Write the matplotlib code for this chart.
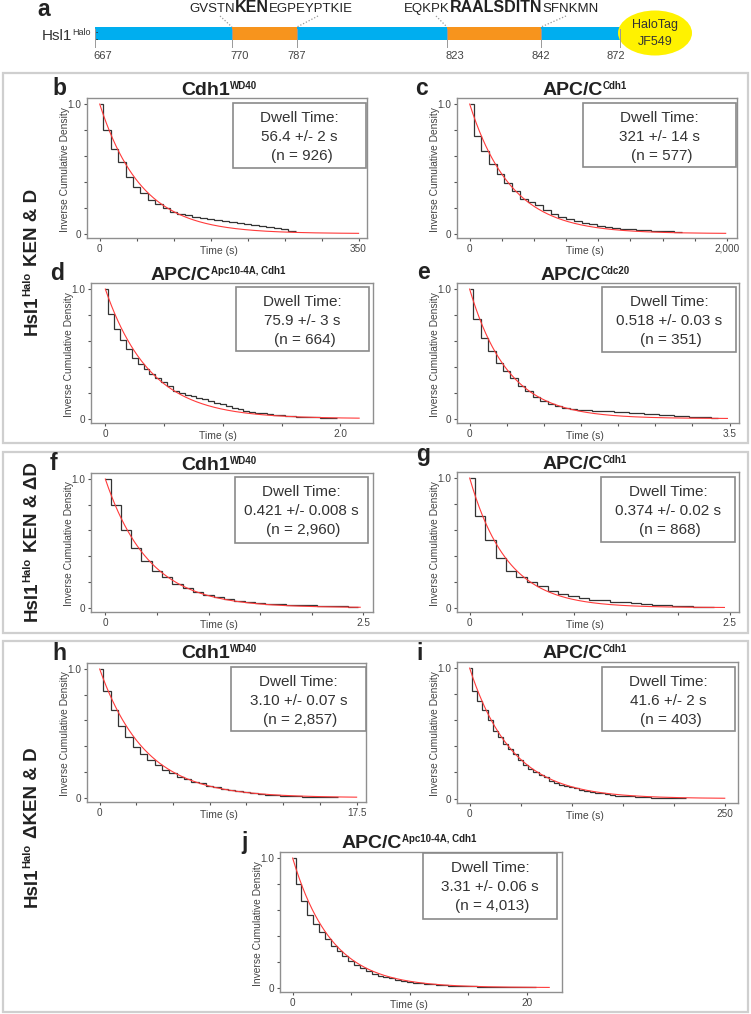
import numpy as np
import matplotlib
matplotlib.use('Agg')
import matplotlib.pyplot as plt
from matplotlib.patches import Rectangle, Ellipse
from matplotlib.lines import Line2D

plt.rcParams['font.family'] = ['Liberation Sans', 'DejaVu Sans']

# ---------------- data ----------------
panel_letters = ['b', 'c', 'd', 'e', 'f', 'g', 'h', 'i', 'j']
title_main = ['Cdh1', 'APC/C', 'APC/C', 'APC/C', 'Cdh1', 'APC/C', 'Cdh1', 'APC/C', 'APC/C']
title_sup = ['WD40', 'Cdh1', 'Apc10-4A, Cdh1', 'Cdc20', 'WD40', 'Cdh1', 'WD40', 'Cdh1', 'Apc10-4A, Cdh1']
dwell_text = ['56.4 +/- 2 s', '321 +/- 14 s', '75.9 +/- 3 s', '0.518 +/- 0.03 s',
              '0.421 +/- 0.008 s', '0.374 +/- 0.02 s', '3.10 +/- 0.07 s', '41.6 +/- 2 s',
              '3.31 +/- 0.06 s']
n_text = ['926', '577', '664', '351', '2,960', '868', '2,857', '403', '4,013']
fit_tau = [56.4, 321, 0.38, 0.518, 0.421, 0.36, 3.10, 41.6, 3.31]
fit_end = [350, 1990, 2.16, 3.47, 2.47, 2.45, 17.5, 250, 21.9]
bin_width = [10, 60, 0.05, 0.1, 0.1, 0.1, 0.5, 5, 0.5]
xtick_step = [50, 250, 0.5, 0.5, 0.5, 0.5, 2.5, 50, 5]
xtick_max = [350, 2000, 2.0, 3.5, 2.5, 2.5, 17.5, 250, 20]
xtick_max_label = ['350', '2,000', '2.0', '3.5', '2.5', '2.5', '17.5', '250', '20']

levels_b = [1.0, 0.80, 0.655, 0.55, 0.44, 0.36, 0.31, 0.26, 0.225, 0.195, 0.17, 0.155, 0.143,
            0.132, 0.122, 0.113, 0.105, 0.098, 0.09, 0.083, 0.075, 0.068, 0.06, 0.052, 0.043,
            0.033, 0.022]
levels_c = [1.0, 0.755, 0.64, 0.54, 0.457, 0.388, 0.33, 0.27, 0.245, 0.22, 0.18, 0.155, 0.13,
            0.111, 0.096, 0.083, 0.072, 0.062, 0.052, 0.044, 0.039, 0.034, 0.028, 0.026, 0.023,
            0.021, 0.018, 0.015]
levels_d = [1.0, 0.81, 0.694, 0.61, 0.537, 0.47, 0.42, 0.38, 0.346, 0.314, 0.28, 0.25, 0.215,
            0.2, 0.185, 0.172, 0.16, 0.148, 0.136, 0.122, 0.11, 0.095, 0.082, 0.072, 0.062, 0.054,
            0.047, 0.041, 0.035, 0.03, 0.026, 0.022, 0.019, 0.016, 0.014, 0.012, 0.01, 0.008,
            0.007, 0.005]
levels_e = [1.0, 0.77, 0.62, 0.524, 0.427, 0.366, 0.31, 0.254, 0.21, 0.17, 0.136, 0.11, 0.094,
            0.079, 0.072, 0.068, 0.064, 0.061, 0.058, 0.055, 0.052, 0.049, 0.046, 0.042, 0.038,
            0.034, 0.03, 0.026, 0.022, 0.019, 0.016, 0.013, 0.01, 0.008]
levels_f = [1.0, 0.8, 0.607, 0.466, 0.366, 0.288, 0.236, 0.183, 0.152, 0.118, 0.1, 0.079, 0.065,
            0.052, 0.045, 0.034, 0.03, 0.027, 0.024, 0.021, 0.018, 0.015, 0.012, 0.009, 0.006]
levels_g = [1.0, 0.706, 0.525, 0.384, 0.286, 0.234, 0.195, 0.169, 0.13, 0.104, 0.088, 0.073,
            0.062, 0.055, 0.047, 0.042, 0.034, 0.029, 0.023, 0.018, 0.016, 0.01, 0.007, 0.004]
levels_h = [1.0, 0.83, 0.679, 0.56, 0.47, 0.39, 0.34, 0.295, 0.25, 0.217, 0.19, 0.164, 0.146,
            0.125, 0.11, 0.094, 0.081, 0.07, 0.06, 0.05, 0.042, 0.034, 0.029, 0.023, 0.018,
            0.016, 0.013, 0.01, 0.008, 0.006, 0.005, 0.004, 0.003]
levels_i = [1.0, 0.825, 0.75, 0.68, 0.6, 0.52, 0.47, 0.418, 0.38, 0.345, 0.295, 0.26, 0.23,
            0.204, 0.183, 0.164, 0.138, 0.12, 0.104, 0.097, 0.086, 0.078, 0.068, 0.06, 0.052,
            0.044, 0.039, 0.034, 0.029, 0.023, 0.021, 0.018, 0.016, 0.014, 0.012, 0.01, 0.008,
            0.007, 0.006, 0.005, 0.004, 0.003, 0.002]
levels_j = [1.0, 0.8, 0.67, 0.564, 0.493, 0.428, 0.375, 0.323, 0.283, 0.244, 0.205, 0.178,
            0.152, 0.126, 0.108, 0.092, 0.081, 0.071, 0.06, 0.052, 0.045, 0.039, 0.034, 0.03,
            0.026, 0.022, 0.019, 0.016, 0.014, 0.012, 0.01, 0.009, 0.008, 0.007, 0.006, 0.005,
            0.004, 0.003, 0.003, 0.002, 0.002, 0.001]
all_levels = [levels_b, levels_c, levels_d, levels_e, levels_f, levels_g, levels_h, levels_i, levels_j]

residues = [667, 770, 787, 823, 842, 872]
seq1 = ['GVSTN', 'KEN', 'EGPEYPTKIE']
seq2 = ['EQKPK', 'RAALSDITN', 'SFNKMN']
row_labels = [['Hsl1', 'Halo', ' KEN & D'], ['Hsl1', 'Halo', ' KEN & \u0394D'],
              ['Hsl1', 'Halo', ' \u0394KEN & D']]

# ---------------- layout (pixels, from top-left) ----------------
W, H = 751, 1014
ax_px = [(87, 367, 98, 238), (457, 737, 98, 238), (91, 373, 283, 423), (457, 739, 283, 423),
         (91, 373, 473, 612), (457, 739, 472, 612), (87, 366, 663, 802), (457, 738, 662, 803),
         (280, 562, 852, 992)]
xlims = [(-17.2, 361.4), (-98.7, 2078), (-0.122, 2.278), (-0.17, 3.626), (-0.139, 2.594),
         (-0.122, 2.59), (-0.864, 18.14), (-12.4, 263), (-1.08, 22.99)]
ylim = (-0.034, 1.047)
box_px = [(233, 366, 103, 168), (583, 736, 103, 167), (236, 369, 287, 351), (602, 736, 287, 352),
          (235, 368, 477, 543), (601, 735, 477, 542), (231, 366, 667, 731), (602, 735, 667, 731),
          (423, 557, 853, 919)]
title_px = [(219, 95), (585, 95), (218, 280), (585, 280), (219, 470), (585, 469), (219, 658),
            (585, 658), (409, 848)]
letter_px = [(52, 95), (415, 95), (50, 280), (417, 279), (50, 470), (416, 461), (52, 660),
             (416, 660), (241, 849)]
sections = [(3, 748, 73, 443), (3, 748, 452, 633), (3, 748, 641, 1012)]
row_label_y = [262, 542, 828]

fig = plt.figure(figsize=(W / 100, H / 100), dpi=100)
fig.patch.set_facecolor('white')
renderer = fig.canvas.get_renderer()


def fx(p):
    return p / W


def fy(p):
    return 1 - p / H


def adv(s, size, weight):
    t1 = fig.text(0, 0, '|' + s + '|', fontsize=size, fontweight=weight)
    t2 = fig.text(0, 0, '||', fontsize=size, fontweight=weight)
    w = t1.get_window_extent(renderer=renderer).width - t2.get_window_extent(renderer=renderer).width
    t1.remove()
    t2.remove()
    return w


def rich(x, y, pieces, rotation=0, color='#222222', align='center'):
    widths = [adv(s, sz, wt) for s, sz, wt, r in pieces]
    total = sum(widths)
    if rotation == 0:
        pos = x - total / 2 if align == 'center' else x
        for (s, sz, wt, r), w in zip(pieces, widths):
            lead = len(s) - len(s.lstrip(' '))
            off = adv(' ' * lead, sz, wt) if lead else 0
            fig.text(fx(pos + off), fy(y - r), s.strip(), fontsize=sz, fontweight=wt,
                     color=color, ha='left', va='baseline')
            pos += w
    else:
        pos = y + total / 2
        for (s, sz, wt, r), w in zip(pieces, widths):
            lead = len(s) - len(s.lstrip(' '))
            off = adv(' ' * lead, sz, wt) if lead else 0
            fig.text(fx(x - r), fy(pos - off), s.strip(), fontsize=sz, fontweight=wt,
                     color=color, ha='left', va='baseline', rotation=90, rotation_mode='anchor')
            pos -= w


# ---------------- section frames ----------------
for (l, r, t, b) in sections:
    fig.add_artist(Rectangle((fx(l), fy(b)), (r - l) / W, (b - t) / H, transform=fig.transFigure,
                             fill=False, edgecolor='#cfcfcf', lw=1.6))

for lab, yc in zip(row_labels, row_label_y):
    rich(37, yc, [(lab[0], 13.5, 'bold', 0), (lab[1], 8, 'bold', 6.5), (lab[2], 13.5, 'bold', 0)],
         rotation=90, color='#222222')

# ---------------- panel a ----------------
fig.text(fx(37), fy(16), 'a', fontsize=16.5, fontweight='bold', color='#222222', ha='left',
         va='baseline')
rich(42, 40, [('Hsl1', 11, 'normal', 0), ('Halo', 6.5, 'normal', 5), (' :', 11, 'normal', 0)],
     color='#333333', align='left')
seg_px = [95, 232, 297, 447, 541, 620]
label_dx = [8, 8, 0, 8, 0, -4]
seg_colors = ['#00AEEF', '#F7941D', '#00AEEF', '#F7941D', '#00AEEF']
bar_t, bar_b = 27, 40
for k in range(len(residues) - 1):
    fig.add_artist(Rectangle((fx(seg_px[k]), fy(bar_b)), (seg_px[k + 1] - seg_px[k]) / W,
                             (bar_b - bar_t) / H, transform=fig.transFigure,
                             facecolor=seg_colors[k], edgecolor='none'))
for xp, dx, res in zip(seg_px, label_dx, residues):
    fig.add_artist(Line2D([fx(xp), fx(xp)], [fy(bar_t + 2), fy(47)], transform=fig.transFigure,
                          color='#999999', lw=0.7))
    fig.text(fx(xp + dx), fy(59), str(res), fontsize=8, color='#444444', ha='center', va='baseline')
fig.add_artist(Ellipse((fx(655), fy(33)), 74 / W, 45 / H, transform=fig.transFigure,
                       facecolor='#FFF200', edgecolor='none'))
fig.text(fx(655), fy(28), 'HaloTag', fontsize=9, color='#333333', ha='center', va='baseline')
fig.text(fx(655), fy(45), 'JF549', fontsize=9, color='#333333', ha='center', va='baseline')
rich(271, 12, [(seq1[0], 9.5, 'normal', 0), (seq1[1], 11.5, 'bold', 0), (seq1[2], 9.5, 'normal', 0)],
     color='#222222')
rich(501, 12, [(seq2[0], 9.5, 'normal', 0), (seq2[1], 11.5, 'bold', 0), (seq2[2], 9.5, 'normal', 0)],
     color='#222222')
for (x0, y0, x1, y1) in [(220, 16, 232, 27), (318, 16, 297, 27), (436, 16, 447, 27), (566, 16, 541, 27)]:
    fig.add_artist(Line2D([fx(x0), fx(x1)], [fy(y0), fy(y1)], transform=fig.transFigure,
                          color='#999999', lw=0.9, ls=(0, (1, 1.5))))

# ---------------- dwell-time panels ----------------
for k in range(9):
    l, r, t, b = ax_px[k]
    ax = fig.add_axes([fx(l), fy(b), (r - l) / W, (b - t) / H])
    lv = np.array(all_levels[k])
    w = bin_width[k]
    edges = np.concatenate([[0.0], w / 2 + w * np.arange(len(lv))])
    ax.stairs(lv, edges, baseline=None, color='#333333', lw=0.9, zorder=3)
    tt = np.linspace(0, fit_end[k], 400)
    ax.plot(tt, np.exp(-tt / fit_tau[k]), color='#ff3b3b', lw=0.8, zorder=4)
    ax.set_xlim(*xlims[k])
    ax.set_ylim(*ylim)
    xt = np.arange(0, xtick_max[k] + xtick_step[k] / 2, xtick_step[k])
    ax.set_xticks(xt)
    ax.set_xticklabels(['0'] + [''] * (len(xt) - 2) + [xtick_max_label[k]])
    yt = np.arange(0, 1.01, 0.2)
    ax.set_yticks(yt)
    ax.set_yticklabels(['0', '', '', '', '', '1.0'])
    for s in ax.spines.values():
        s.set_color('#8f8f8f')
        s.set_linewidth(1.0)
    ax.tick_params(direction='out', length=2.5, width=0.8, color='#555555', labelsize=7.2,
                   labelcolor='#444444', pad=1.5)
    ax.text(-22 / (r - l), 0.49, 'Inverse Cumulative Density', transform=ax.transAxes,
            rotation=90, ha='center', va='center', fontsize=7.4, color='#444444')
    xc, yb = title_px[k]
    fig.text(fx(xc), fy(b + 13), 'Time (s)', fontsize=7.5, color='#444444', ha='center',
             va='center')
    rich(xc, yb, [(title_main[k], 14, 'bold', 0), (title_sup[k], 7, 'bold', 6)], color='#222222')
    lx, ly = letter_px[k]
    fig.text(fx(lx), fy(ly), panel_letters[k], fontsize=16.5, fontweight='bold', color='#222222',
             ha='left', va='baseline')
    bx0, bx1, by0, by1 = box_px[k]
    fig.add_artist(Rectangle((fx(bx0), fy(by1)), (bx1 - bx0) / W, (by1 - by0) / H,
                             transform=fig.transFigure, facecolor='white', edgecolor='#8a8a8a',
                             lw=1.2, zorder=5))
    bc = (bx0 + bx1) / 2
    fig.text(fx(bc), fy(by0 + 19), 'Dwell Time:', fontsize=11, color='#333333', ha='center',
             va='baseline', zorder=6)
    fig.text(fx(bc), fy(by0 + 38), dwell_text[k], fontsize=11, color='#333333', ha='center',
             va='baseline', zorder=6)
    fig.text(fx(bc + 2), fy(by0 + 57), '(n = ' + n_text[k] + ')', fontsize=11, color='#333333',
             ha='center', va='baseline', zorder=6)

fig.savefig('out.png', dpi=100)
